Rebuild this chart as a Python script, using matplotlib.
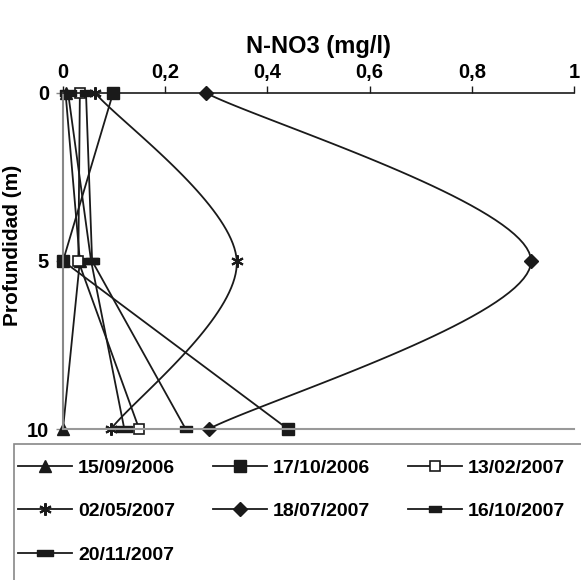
import numpy as np
import matplotlib
matplotlib.use("Agg")
import matplotlib.pyplot as plt
from matplotlib.path import Path
from matplotlib.patches import Rectangle

plt.rcParams["font.family"] = ["Liberation Sans", "DejaVu Sans"]
plt.rcParams["font.weight"] = "bold"

depth = [0, 5, 10]
dates = ["15/09/2006", "17/10/2006", "13/02/2007", "02/05/2007",
         "18/07/2007", "16/10/2007", "20/11/2007"]
s_150906 = [0.005, 0.033, 0.0]
s_171006 = [0.098, 0.0, 0.44]
s_130207 = [0.033, 0.03, 0.149]
s_020507 = [0.063, 0.34, 0.094]
s_180707 = [0.28, 0.916, 0.285]
s_161007 = [0.045, 0.057, 0.24]
s_201107 = [0.01, 0.055, 0.12]
x_ticks = [0, 0.2, 0.4, 0.6, 0.8, 1]
x_ticklabels = ["0", "0,2", "0,4", "0,6", "0,8", "1"]
y_ticks = [0, 5, 10]

# small bar markers
bar_small = Path([(-1, -0.6), (1, -0.6), (1, 0.6), (-1, 0.6), (-1, -0.6)],
                 [1, 2, 2, 2, 79])
bar_long = Path([(-1, -0.35), (1, -0.35), (1, 0.35), (-1, 0.35), (-1, -0.35)],
                [1, 2, 2, 2, 79])

fig = plt.figure(figsize=(5.81, 5.80), dpi=100)
ax = fig.add_axes([63 / 581, 1 - 429 / 580, 511 / 581, 336 / 580])
ax.set_xlim(0, 1)
ax.set_ylim(10, 0)


def smooth(xs, ys, n=40):
    # catmull-rom style smoothing done in screen space (like the spreadsheet)
    pts = ax.transData.transform(np.column_stack([xs, ys]))
    p = np.vstack([pts[0], pts, pts[-1]])
    out = []
    for i in range(1, len(p) - 2):
        p0, p1, p2, p3 = p[i - 1], p[i], p[i + 1], p[i + 2]
        c1 = p1 + (p2 - p0) / 6
        c2 = p2 - (p3 - p1) / 6
        t = np.linspace(0, 1, n + 1)[:, None]
        if i > 1:
            t = t[1:]
        seg = ((1 - t) ** 3 * p1 + 3 * (1 - t) ** 2 * t * c1
               + 3 * (1 - t) * t ** 2 * c2 + t ** 3 * p2)
        out.append(seg)
    out = ax.transData.inverted().transform(np.vstack(out))
    return out[:, 0], out[:, 1], list(range(0, n * (len(xs) - 1) + 1, n))


lw = 1.3
k = "#1a1a1a"
handles = {}
h, = ax.plot(s_150906, depth, color=k, lw=lw, marker="^", ms=8,
             mfc=k, mec=k, label=dates[0])
handles[dates[0]] = h
h, = ax.plot(s_171006, depth, color=k, lw=lw, marker="s", ms=8,
             mfc=k, mec=k, label=dates[1])
handles[dates[1]] = h
h, = ax.plot(s_130207, depth, color=k, lw=lw, marker="s", ms=7.5,
             mfc="white", mec=k, mew=1.2, label=dates[2])
handles[dates[2]] = h
h, = ax.plot(s_161007, depth, color=k, lw=lw, marker=bar_small, ms=8,
             mfc=k, mec=k, label=dates[5])
handles[dates[5]] = h
h, = ax.plot(s_201107, depth, color=k, lw=lw, marker=bar_long, ms=12,
             mfc=k, mec=k, label=dates[6])
handles[dates[6]] = h

xs, ys, me = smooth(s_020507, depth)
h, = ax.plot(xs, ys, color=k, lw=lw, marker=(6, 2, 0), ms=9, mew=1.5,
             mec=k, markevery=me, label=dates[3])
handles[dates[3]] = h
xs, ys, me = smooth(s_180707, depth)
h, = ax.plot(xs, ys, color=k, lw=lw, marker="D", ms=7.5,
             mfc=k, mec=k, markevery=me, label=dates[4])
handles[dates[4]] = h

for obj in ax.lines:
    obj.set_clip_on(False)

ax.xaxis.tick_top()
ax.xaxis.set_label_position("top")
ax.set_xticks(x_ticks)
ax.set_xticklabels(x_ticklabels)
ax.set_yticks(y_ticks)
ax.tick_params(axis="x", direction="out", length=5, width=1, color=k,
               labelsize=14.5, pad=3)
ax.tick_params(axis="y", direction="out", length=5, width=1, color="#888888",
               labelsize=14.5, pad=5)
ax.set_xlabel("N-NO3 (mg/l)", fontsize=17, fontweight="bold", labelpad=7)
ax.set_ylabel("Profundidad (m)", fontsize=15, fontweight="bold")
ax.yaxis.set_label_coords(-41 / 511, 1 - 152 / 336)

ax.spines["top"].set_color(k)
ax.spines["top"].set_linewidth(1.2)
ax.spines["left"].set_color("#888888")
ax.spines["left"].set_linewidth(1.5)
ax.spines["bottom"].set_color("#999999")
ax.spines["bottom"].set_linewidth(1.5)
ax.spines["right"].set_visible(False)

# legend box runs past the right and bottom edges of the picture
fig.patches.append(Rectangle((14 / 581, -0.05), 1.2, 1 - 444 / 580 + 0.05,
                             transform=fig.transFigure, fill=False,
                             edgecolor="#888888", lw=1.2))

order = [dates[0], dates[3], dates[6], dates[1], dates[4], dates[2], dates[5]]
leg = fig.legend([handles[d] for d in order], order, ncol=3,
                 loc="upper left", bbox_to_anchor=(18 / 581, 1 - 459 / 580),
                 fontsize=14, frameon=False,
                 handlelength=2.78, handletextpad=0.3, columnspacing=1.95,
                 labelspacing=1.33, borderpad=0, borderaxespad=0)
for t in leg.get_texts():
    t.set_fontweight("bold")

fig.savefig("out.png", dpi=100)
